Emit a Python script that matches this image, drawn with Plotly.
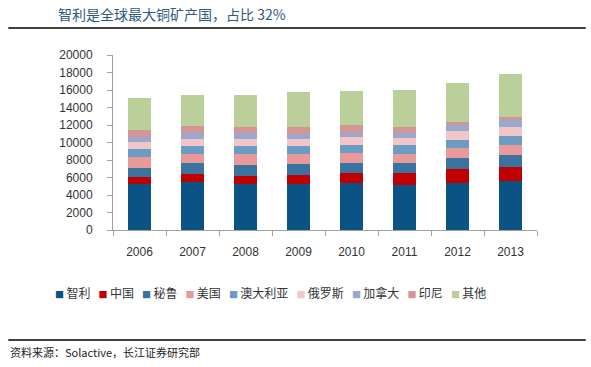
import plotly.graph_objects as go

years = ["2006", "2007", "2008", "2009", "2010", "2011", "2012", "2013"]
countries = ["智利", "中国", "秘鲁", "美国", "澳大利亚", "俄罗斯", "加拿大", "印尼", "其他"]

chile = [5260, 5450, 5260, 5260, 5410, 5140, 5330, 5640]
china = [835, 950, 950, 1070, 1070, 1330, 1640, 1600]
peru = [1030, 1220, 1260, 1220, 1220, 1220, 1260, 1330]
usa = [1220, 1070, 1220, 1140, 1140, 990, 1140, 1140]
australia = [880, 910, 910, 910, 880, 1070, 910, 1030]
russia = [840, 800, 840, 760, 880, 800, 1070, 1070]
canada = [530, 650, 690, 610, 460, 570, 610, 760]
indonesia = [840, 840, 690, 840, 910, 690, 420, 300]
other = [3620, 3540, 3620, 3960, 3920, 4190, 4460, 4910]

series = [chile, china, peru, usa, australia, russia, canada, indonesia, other]
colors = ["#0B5285", "#C00000", "#3A73A0", "#E89A9B", "#6C9BC3",
          "#F2C6C8", "#9AA8D0", "#D49597", "#BBCF9A"]

FONT = "Liberation Sans, Arial, Noto Sans CJK SC, sans-serif"
CJK = "Noto Sans CJK SC, sans-serif"

fig = go.Figure()
for name, vals, col in zip(countries, series, colors):
    fig.add_trace(go.Bar(x=years, y=vals, name=name, marker_color=col,
                         marker_line_width=0, showlegend=False))

fig.update_layout(
    barmode="stack",
    width=591, height=367,
    margin=dict(l=113, r=54, t=55, b=137, autoexpand=False),
    paper_bgcolor="white", plot_bgcolor="white",
    bargap=0.57,
    font=dict(family=FONT, size=12, color="#333333"),
    showlegend=False,
    xaxis=dict(type="category", showline=True, linecolor="#A0A0A0", linewidth=1,
               ticks="outside", tickson="boundaries", ticklen=5, tickcolor="#A0A0A0",
               ticklabelstandoff=11,
               tickfont=dict(size=12, color="#333333"), showgrid=False),
    yaxis=dict(range=[0, 20000], dtick=2000, showline=True, linecolor="#A0A0A0",
               linewidth=1, ticks="outside", ticklen=5, tickcolor="#A0A0A0",
               ticklabelstandoff=12,
               showgrid=False, zeroline=False, tickformat="d",
               tickfont=dict(size=12, color="#333333")),
)

# compact legend built from the country names and colours
legend_parts = []
for name, col in zip(countries, colors):
    legend_parts.append(
        f'<span style="color:{col};font-size:9px">■</span>\u2009{name}')
legend_text = "\u00a0\u00a0\u00a0".join(legend_parts)
fig.add_annotation(text=legend_text, xref="paper", yref="paper",
                   x=-0.1415, y=0, xanchor="left", yanchor="middle", yshift=-62,
                   showarrow=False,
                   font=dict(family=CJK, size=12, color="#333333"))

fig.add_annotation(text="智利是全球最大铜矿产国，占比 32%", xref="paper", yref="paper",
                   x=-0.135, y=1.0, xanchor="left", yanchor="middle", yshift=41,
                   showarrow=False,
                   font=dict(family=CJK, size=14, color="#2F5A80"))
fig.add_annotation(text="资料来源：Solactive，长江证券研究部", xref="paper", yref="paper",
                   x=-0.247, y=0, xanchor="left", yanchor="middle", yshift=-122,
                   showarrow=False,
                   font=dict(family=CJK, size=11, color="#222222"))

fig.add_shape(type="line", xref="paper", yref="paper", x0=-0.247, x1=1.115,
              y0=1.154, y1=1.154, line=dict(color="#000000", width=1.5))
fig.add_shape(type="line", xref="paper", yref="paper", x0=-0.247, x1=1.115,
              y0=-0.629, y1=-0.629, line=dict(color="#000000", width=1.5))

fig.write_html("out.html",
               config={"displayModeBar": False},
               post_script="document.body.style.margin='0';document.body.style.overflow='hidden';")
